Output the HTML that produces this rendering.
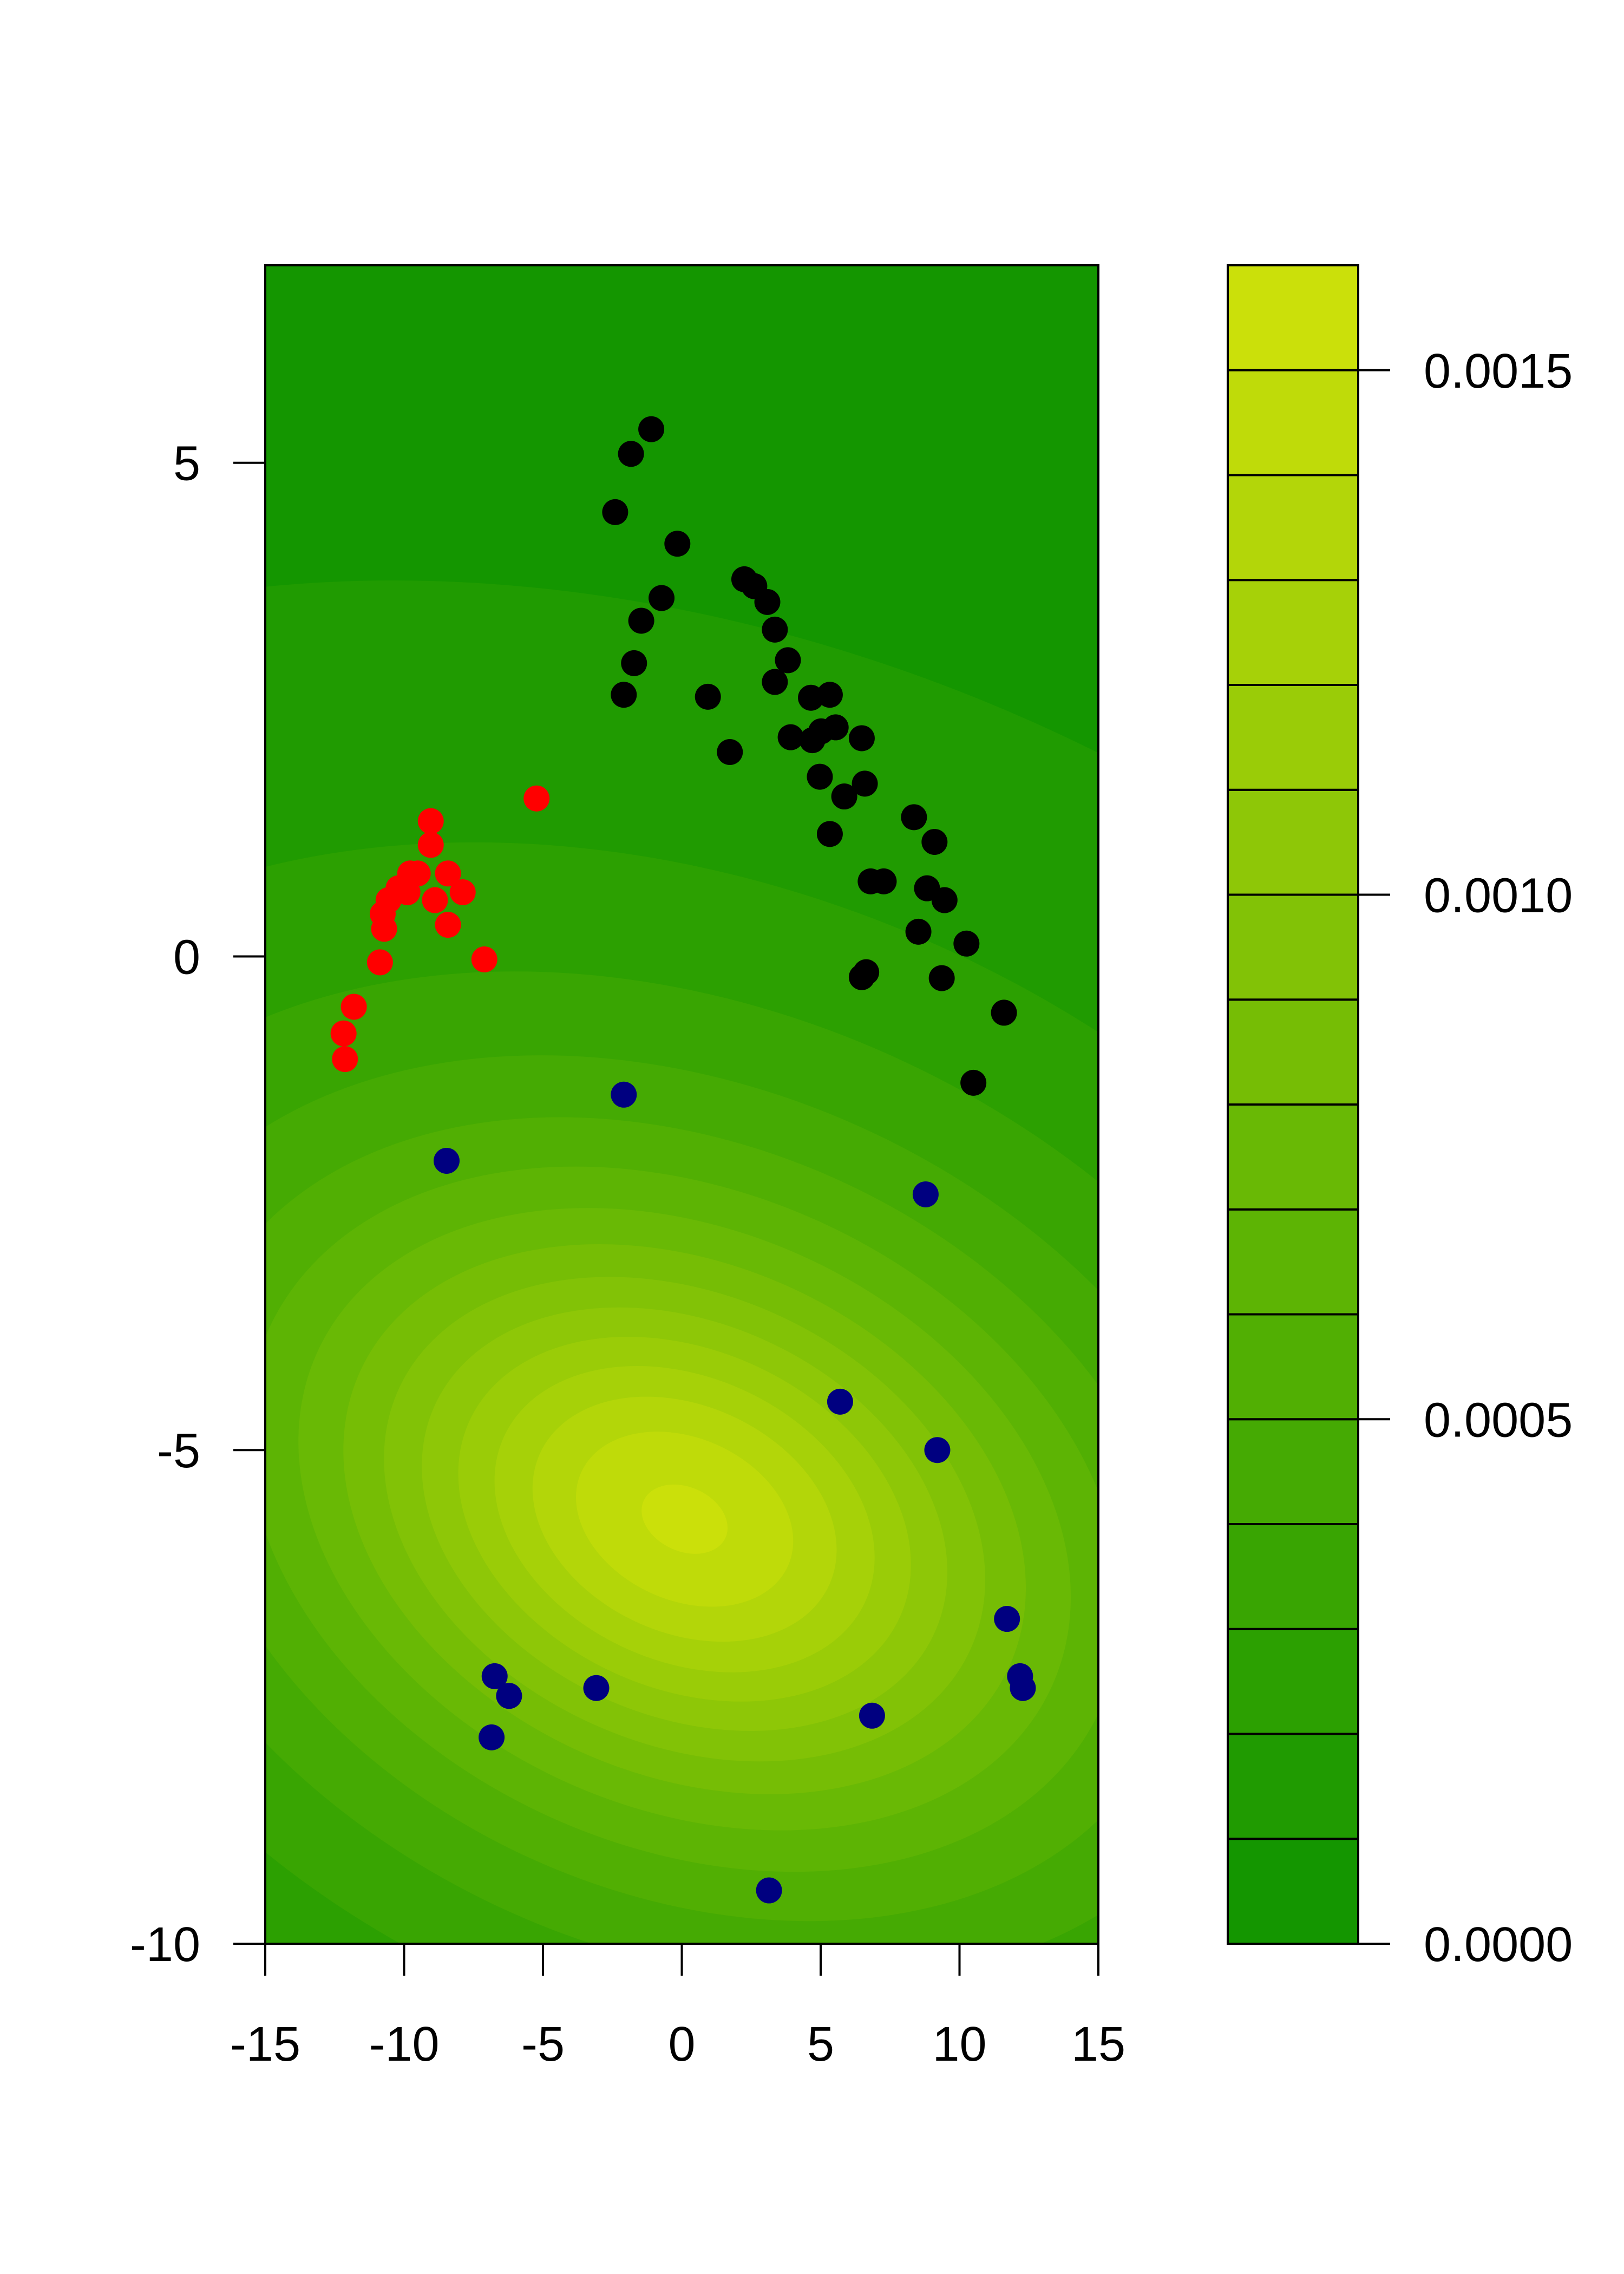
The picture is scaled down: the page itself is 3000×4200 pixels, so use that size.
<!DOCTYPE html>
<html><head><meta charset="utf-8"><style>
html,body{margin:0;padding:0;background:#fff;overflow:hidden;width:3000px;height:4200px;}
svg{display:block;}
svg text{font-family:"Liberation Sans",Arial,sans-serif;font-size:90px;fill:#000;}
</style></head><body>
<svg id="chart" width="3000" height="4200" xmlns="http://www.w3.org/2000/svg">
<defs><clipPath id="pc"><rect x="490" y="490" width="1539" height="3100"/></clipPath></defs>
<g id="plot" clip-path="url(#pc)"></g>
<g id="overlay"></g>
</svg>
<script>
const blackX=[-1.1,-1.83,-2.4,-0.16,-0.73,-1.46,-1.72,-2.09,0.94,2.25,2.61,3.08,3.35,3.82,3.35,1.73,4.65,5.33,3.92,4.7,5.02,5.54,6.48,4.97,5.85,6.59,5.33,6.8,7.27,8.36,9.1,8.83,9.46,8.52,10.25,6.64,6.48,9.36,11.6,10.5];
const blackY=[5.34,5.09,4.5,4.18,3.63,3.4,2.97,2.65,2.63,3.82,3.75,3.59,3.31,3.0,2.78,2.07,2.62,2.65,2.22,2.19,2.28,2.32,2.21,1.82,1.62,1.75,1.24,0.76,0.76,1.41,1.16,0.69,0.57,0.25,0.13,-0.16,-0.21,-0.22,-0.57,-1.28];
const redX=[-5.23,-9.04,-9.04,-9.51,-9.78,-8.42,-7.89,-8.89,-9.88,-10.2,-10.56,-10.77,-10.72,-8.42,-10.87,-7.11,-11.81,-12.18,-12.13];
const redY=[1.6,1.37,1.13,0.84,0.84,0.84,0.65,0.57,0.65,0.69,0.57,0.43,0.28,0.32,-0.06,-0.03,-0.51,-0.78,-1.04];
const blueX=[-2.09,-8.47,8.78,5.7,9.2,11.71,-6.74,-6.22,-3.08,-6.85,6.85,12.18,12.28,3.14];
const blueY=[-1.4,-2.07,-2.41,-4.51,-5.0,-6.71,-7.29,-7.49,-7.41,-7.91,-7.69,-7.29,-7.41,-9.46];
const xTicks=[-15,-10,-5,0,5,10,15];
const yTicks=[-10,-5,0,5];
const cbTicks=[0,0.0005,0.0010,0.0015];
const cbLabels=["0.0000","0.0005","0.0010","0.0015"];
const levels=[0,0.0001,0.0002,0.0003,0.0004,0.0005,0.0006,0.0007,0.0008,0.0009,0.0010,0.0011,0.0012,0.0013,0.0014,0.0015,0.0016];
const densPeak=0.00152, densCx=0.1, densCy=-5.7, densSx=15, densSy=3.4, densRho=-0.25, densP=1.25;

const NS="http://www.w3.org/2000/svg";
const X0=490,X1=2029,Y0=490,Y1=3590;
const sx=v=>X0+(v+15)/30*(X1-X0);
const sy=v=>Y1-(v+10)/17*(Y1-Y0);
const CB0=2268,CB1=2509;
const cy=v=>Y1-v/0.0016*(Y1-Y0);
function col(i){const t=i/15;const a=[20,150,0],b=[203,224,10];return `rgb(${a.map((c,k)=>Math.round(c+(b[k]-c)*t)).join(',')})`;}
function mk(tag,attrs,parent){const e=document.createElementNS(NS,tag);for(const k in attrs)e.setAttribute(k,attrs[k]);parent.appendChild(e);return e;}
const plot=document.getElementById('plot'),ov=document.getElementById('overlay');
let bg=mk('rect',{x:X0,y:Y0,width:X1-X0,height:Y1-Y0,fill:col(0)},plot);


const cxx=densSx*densSx, cyy=densSy*densSy, cxy=densRho*densSx*densSy;
const tr=(cxx+cyy)/2, det=Math.sqrt(((cxx-cyy)/2)**2+cxy*cxy);
const l1=tr+det,l2=tr-det;
const ang=Math.atan2(l1-cxx,cxy)*180/Math.PI;
const pxu=(X1-X0)/30, pyu=(Y1-Y0)/17;
for(let k=1;k<16;k++){
  const lv=levels[k]; if(lv>=densPeak)break;
  const Q=Math.pow(densPeak/lv,1/densP)-1;
  const g=mk('g',{transform:`translate(${sx(densCx)},${sy(densCy)}) scale(${pxu},${-pyu}) rotate(${ang})`},plot);
  let e=mk('ellipse',{cx:0,cy:0,rx:Math.sqrt(Q*l1),ry:Math.sqrt(Q*l2),fill:col(k)},g);
  
  
}
function pts(xs,ys,c,name){xs.forEach((x,i)=>{let p=mk('circle',{cx:sx(x),cy:sy(ys[i]),r:24,fill:c},plot);
  
  });}
pts(blackX,blackY,'#000','black-point');
pts(redX,redY,'#ff0000','red-point');
pts(blueX,blueY,'#000080','blue-point');
let fr=mk('rect',{x:X0,y:Y0,width:X1-X0,height:Y1-Y0,fill:'none',stroke:'#000','stroke-width':4},ov);


xTicks.forEach(v=>{mk('line',{x1:sx(v),x2:sx(v),y1:Y1,y2:Y1+59,stroke:'#000','stroke-width':4},ov);
  let t=mk('text',{x:sx(v),y:3806,'text-anchor':'middle'},ov);t.textContent=v;
  
  });
yTicks.forEach(v=>{mk('line',{x1:X0-59,x2:X0,y1:sy(v),y2:sy(v),stroke:'#000','stroke-width':4},ov);
  let t=mk('text',{x:370,y:sy(v)+32,'text-anchor':'end'},ov);t.textContent=v;
  
  });
for(let k=0;k<16;k++){let r=mk('rect',{x:CB0,y:cy(levels[k+1]),width:CB1-CB0,height:cy(levels[k])-cy(levels[k+1]),fill:col(k),stroke:'#000','stroke-width':4},ov);
  
  }
cbTicks.forEach((v,i)=>{mk('line',{x1:CB1,x2:CB1+59,y1:cy(v),y2:cy(v),stroke:'#000','stroke-width':4},ov);
  let t=mk('text',{x:2630,y:cy(v)+32},ov);t.textContent=cbLabels[i];
  
  });
</script>
</body></html>
